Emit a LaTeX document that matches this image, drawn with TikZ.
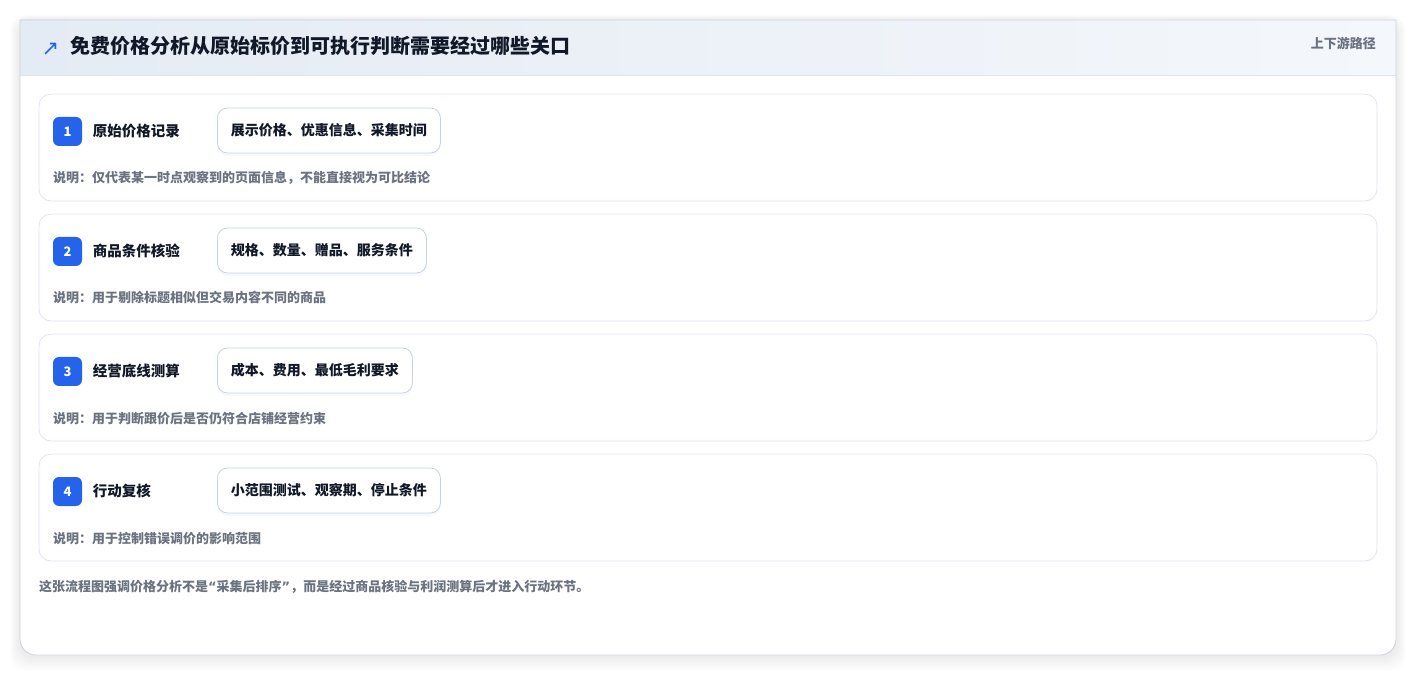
\documentclass[tikz,border=0pt]{standalone}
\usepackage{fontspec}
\setmainfont{Noto Sans CJK SC}
\newfontfamily\symfont{DejaVu Sans}
\usetikzlibrary{positioning,shadows}

\definecolor{badgeblue}{HTML}{2563EB}
\definecolor{inkdark}{HTML}{111827}
\definecolor{notegray}{HTML}{6B7280}
\definecolor{cardline}{HTML}{DDE5F1}
\definecolor{pillline}{HTML}{C3D3EC}
\definecolor{headleft}{HTML}{E5EBF4}
\definecolor{headright}{HTML}{F4F7FB}
\definecolor{frameline}{HTML}{CDD3DD}

\tikzset{
  cjk/.style={inner sep=0pt, text height=1em, text depth=0em},
  stepcard/.style={draw=cardline, line width=.8pt, fill=white, rounded corners=12pt,
    minimum width=1338pt, minimum height=107pt},
  badge/.style={fill=badgeblue, rounded corners=6pt, minimum size=29pt, inner sep=0pt,
    text=white, font=\bfseries\fontsize{13}{13}\selectfont},
  steptitle/.style={cjk, anchor=west, text=inkdark, font=\bfseries\fontsize{14.5}{16}\selectfont},
  pill/.style={draw=pillline, line width=.8pt, fill=white, rounded corners=10pt,
    minimum height=45pt, inner xsep=13.5pt, anchor=west, text=inkdark,
    text height=1em, text depth=0em,
    font=\bfseries\fontsize{14}{16}\selectfont,
    drop shadow={opacity=.05, shadow xshift=0pt, shadow yshift=-3pt}},
  note/.style={cjk, anchor=west, text=notegray, font=\bfseries\fontsize{13}{15}\selectfont}
}
\newcommand{\openq}{{\symfont “}}
\newcommand{\closeq}{{\symfont ”}}

\begin{document}
\begin{tikzpicture}[x=1pt,y=-1pt]
  \useasboundingbox (0,0) rectangle (1417,676);

  % soft shadow of the frame
  \foreach \s in {1,...,10}
    \fill[black, opacity=.006, rounded corners=16pt]
      (20-\s,20-.5*\s) rectangle (1396+\s,655+1.6*\s);

  % frame
  \fill[white, rounded corners=16pt] (20,20) rectangle (1396,655);
  \shade[left color=headleft, right color=headright] (20,20) rectangle (1396,75);
  \draw[cardline, line width=.8pt] (20,75) -- (1396,75);
  \draw[frameline, line width=.8pt] (20,300) -- (20,20) -- (1396,20) -- (1396,300)
    [rounded corners=16pt] -- (1396,655) -- (20,655) -- (20,300);

  \node[text=badgeblue, font=\symfont\fontsize{21}{21}\selectfont, inner sep=0pt] (icon) at (50.5,49.5) {↗};
  \node[cjk, anchor=west, text=inkdark, font=\bfseries\fontsize{20}{24}\selectfont] (title) at (70,49)
    {免费价格分析从原始标价到可执行判断需要经过哪些关口};
  \node[cjk, anchor=east, text=notegray, font=\bfseries\fontsize{13}{15}\selectfont] (tag) at (1376,44) {上下游路径};

  % cards
  \node[stepcard] (card1) at (708,147.5) {};
  \node[stepcard] (card2) at (708,267.5) {};
  \node[stepcard] (card3) at (708,387.5) {};
  \node[stepcard] (card4) at (708,507.5) {};

  \node[badge] (b1) at (67.5,131.5) {1};
  \node[badge] (b2) at (67.5,251.5) {2};
  \node[badge] (b3) at (67.5,371.5) {3};
  \node[badge] (b4) at (67.5,491.5) {4};

  \node[steptitle, right=10.5pt of b1] (t1) {原始价格记录};
  \node[steptitle, right=10.5pt of b2] (t2) {商品条件核验};
  \node[steptitle, right=10.5pt of b3] (t3) {经营底线测算};
  \node[steptitle, right=10.5pt of b4] (t4) {行动复核};

  \node[pill] (p1) at (217,130.5) {展示价格、优惠信息、采集时间};
  \node[pill] (p2) at (217,250.5) {规格、数量、赠品、服务条件};
  \node[pill] (p3) at (217,370.5) {成本、费用、最低毛利要求};
  \node[pill] (p4) at (217,490.5) {小范围测试、观察期、停止条件};

  \node[note] (n1) at (53,178) {说明：仅代表某一时点观察到的页面信息，不能直接视为可比结论};
  \node[note] (n2) at (53,298) {说明：用于剔除标题相似但交易内容不同的商品};
  \node[note] (n3) at (53,418) {说明：用于判断跟价后是否仍符合店铺经营约束};
  \node[note] (n4) at (53,538) {说明：用于控制错误调价的影响范围};

  \node[note] (foot) at (39,586)
    {这张流程图强调价格分析不是\openq 采集后排序\closeq ，而是经过商品核验与利润测算后才进入行动环节。};
\end{tikzpicture}
\end{document}
